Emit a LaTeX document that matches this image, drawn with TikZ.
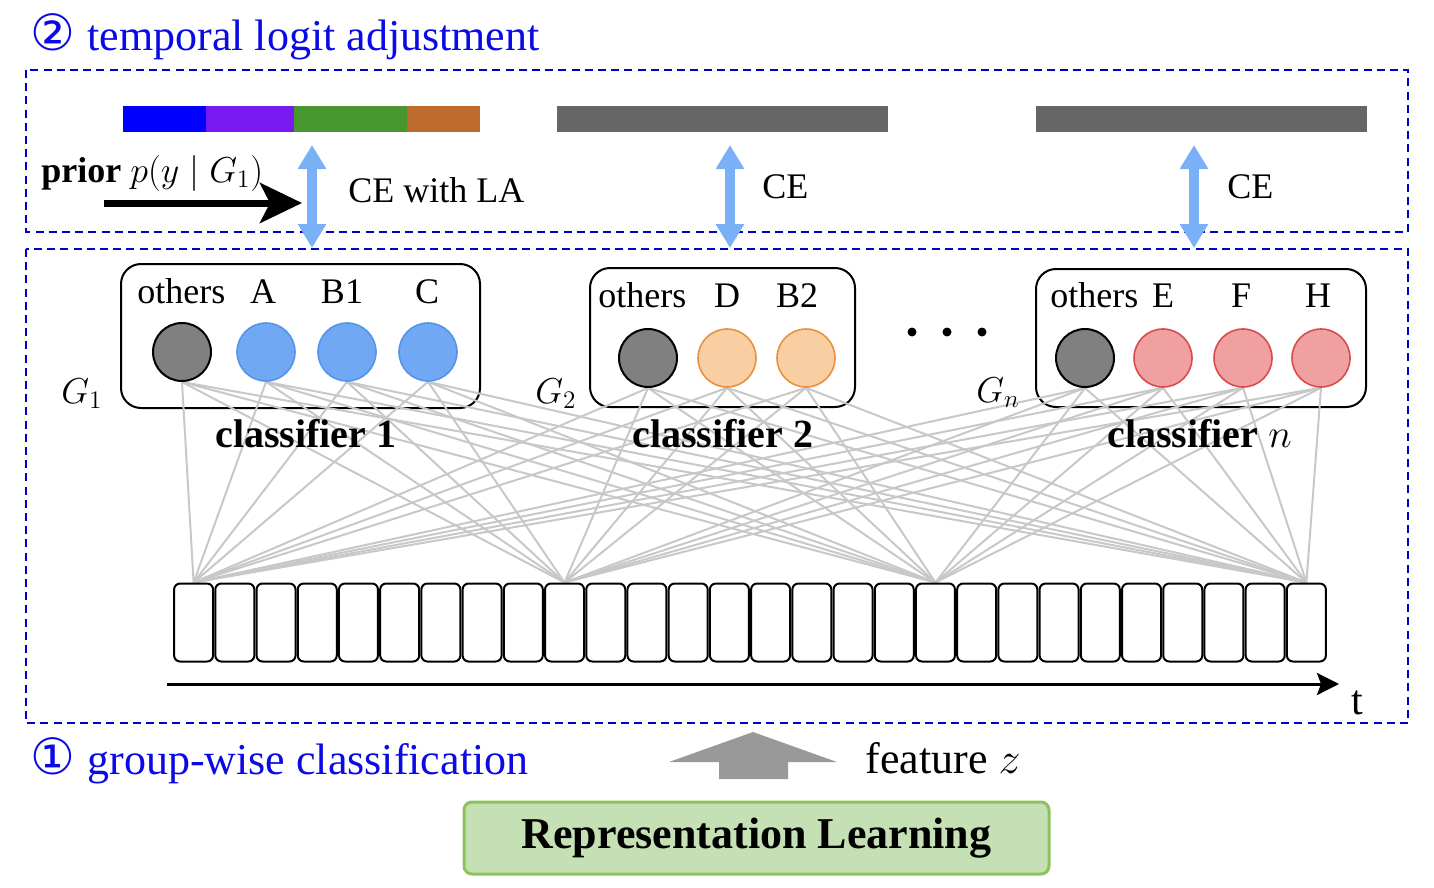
\RequirePackage{fix-cm}
\documentclass[tikz,border=0pt]{standalone}
\usepackage{fontspec}
\setmainfont{Liberation Serif}
\newfontfamily\dejavu{DejaVu Sans}
\usetikzlibrary{arrows.meta}
\pgfdeclarelayer{bg}
\pgfdeclarelayer{mid}
\pgfsetlayers{bg,mid,main}
\definecolor{dashblue}{RGB}{0,0,200}
\definecolor{titleblue}{RGB}{10,10,230}
\definecolor{cblue}{RGB}{0,0,255}
\definecolor{cpurple}{RGB}{122,26,242}
\definecolor{cgreen}{RGB}{71,150,46}
\definecolor{corange}{RGB}{190,108,45}
\definecolor{bargray}{RGB}{102,102,102}
\definecolor{arrowblue}{RGB}{122,176,245}
\definecolor{nodegray}{RGB}{128,128,128}
\definecolor{bfill}{RGB}{112,168,244}
\definecolor{bdraw}{RGB}{86,146,234}
\definecolor{ofill}{RGB}{248,206,162}
\definecolor{odraw}{RGB}{232,145,65}
\definecolor{rfill}{RGB}{240,160,160}
\definecolor{rdraw}{RGB}{218,75,75}
\definecolor{linegray}{RGB}{200,200,200}
\definecolor{featgray}{RGB}{153,153,153}
\definecolor{rlfill}{RGB}{197,224,180}
\definecolor{rldraw}{RGB}{140,195,90}
\newcommand{\circdig}[1]{\makebox[28.5pt][l]{\dejavu\fontsize{25}{26}\selectfont #1}}
\tikzset{
  dashbox/.style={draw=dashblue, line width=1.25pt, dash pattern=on 4pt off 2.6pt},
  cearrow/.style={draw=arrowblue, line width=5pt,
    {Triangle[width=13.5pt,length=12pt]}-{Triangle[width=13.5pt,length=12pt]}},
  clsbox/.style={draw, line width=1pt, rounded corners=10pt, inner sep=0pt},
  circbase/.style={circle, minimum size=29pt, inner sep=0pt, line width=0.8pt},
  othc/.style={circbase, fill=nodegray, draw=black, line width=1pt},
  bluec/.style={circbase, fill=bfill, draw=bdraw},
  orangec/.style={circbase, fill=ofill, draw=odraw},
  redc/.style={circbase, fill=rfill, draw=rdraw},
  lbl/.style={inner sep=0pt, anchor=base, font=\fontsize{18}{20}\selectfont},
  lblw/.style={lbl, anchor=base west},
  clslbl/.style={inner sep=0pt, anchor=base west, font=\fontsize{20}{24}\selectfont\bfseries},
  cell/.style={draw, line width=1pt, rounded corners=3pt, minimum width=19.5pt, minimum height=39pt, inner sep=0pt},
  link/.style={draw=linegray, line width=1pt},
  dotn/.style={circle, fill=black, inner sep=0pt, minimum size=4.5pt},
  bigtxt/.style={inner sep=0pt, anchor=base west, font=\fontsize{22}{26}\selectfont},
}
\begin{document}
\begin{tikzpicture}[x=0.5pt,y=-0.5pt]
\useasboundingbox (0,0) rectangle (1434,888);
% dashed frames
\draw[dashbox] (26,70) rectangle (1408,232);
\draw[dashbox] (26,249) rectangle (1408,723);
% title texts
\node[bigtxt, text=titleblue] (title) at (30,51) {\circdig{②}temporal logit adjustment};
\node[bigtxt, text=titleblue] (sub) at (30,774) {\circdig{①}group-wise classification};
% bars
\fill[cblue] (123,106) rectangle (206,132);
\fill[cpurple] (206,106) rectangle (294,132);
\fill[cgreen] (294,106) rectangle (407,132);
\fill[corange] (407,106) rectangle (480,132);
\fill[bargray] (557,106) rectangle (888,132);
\fill[bargray] (1036,106) rectangle (1367,132);
% prior arrow
\node[lblw] (prior) at (41,182) {\textbf{prior} $p(y\mid G_1)$};
\coordinate (pa0) at (104,203);
\coordinate (pa1) at (302,203);
\draw[line width=3.5pt, -{Stealth[length=21pt,width=20pt,inset=5pt]}] (pa0) -- (pa1);
% CE arrows
\coordinate (u1) at (312,145); \coordinate (v1) at (312,248);
\coordinate (u2) at (730,145); \coordinate (v2) at (730,248);
\coordinate (u3) at (1194,145); \coordinate (v3) at (1194,248);
\draw[cearrow] (u1) -- (v1);
\draw[cearrow] (u2) -- (v2);
\draw[cearrow] (u3) -- (v3);
\node[lblw] (ce1) at (348,202) {CE with LA};
\node[lblw] (ce2) at (762,198) {CE};
\node[lblw] (ce3) at (1227,198) {CE};
% classifier boxes
\begin{pgfonlayer}{bg}
\node[clsbox, minimum width=179.5pt, minimum height=72pt] (box1) at (300.5,336) {};
\node[clsbox, minimum width=132.5pt, minimum height=69.5pt] (box2) at (722.5,337.5) {};
\node[clsbox, minimum width=165pt, minimum height=69pt] (box3) at (1201,338) {};
\end{pgfonlayer}
% circles
\node[othc] (k1) at (182,352) {};
\node[bluec] (k2) at (266,352) {};
\node[bluec] (k3) at (347,352) {};
\node[bluec] (k4) at (428,352) {};
\node[othc] (k5) at (648,358) {};
\node[orangec] (k6) at (727,358) {};
\node[orangec] (k7) at (806,358) {};
\node[othc] (k8) at (1085,358) {};
\node[redc] (k9) at (1163,358) {};
\node[redc] (k10) at (1243,358) {};
\node[redc] (k11) at (1321,358) {};
% circle labels
\node[lblw] (l1) at (137,303) {others};
\node[lbl] (l2) at (263,303) {A};
\node[lbl] (l3) at (342,303) {B1};
\node[lbl] (l4) at (427,303) {C};
\node[lblw] (l5) at (598,307) {others};
\node[lbl] (l6) at (727,307) {D};
\node[lbl] (l7) at (797,307) {B2};
\node[lblw] (l8) at (1050,307) {others};
\node[lbl] (l9) at (1163,307) {E};
\node[lbl] (l10) at (1241,307) {F};
\node[lbl] (l11) at (1318,307) {H};
% group labels
\node[lblw] (g1) at (61,403) {$G_1$};
\node[lblw] (g2) at (535,403) {$G_2$};
\node[lblw] (gn) at (976,402) {$G_n$};
% dots
\node[dotn] (d1) at (912,332) {};
\node[dotn] (d2) at (947,332) {};
\node[dotn] (d3) at (982,332) {};
% classifier labels
\node[clslbl] (cl1) at (215,447) {classifier 1};
\node[clslbl] (cl2) at (632,447) {classifier 2};
\node[clslbl] (cl3) at (1107,447) {classifier \mdseries$n$};
% cells
\foreach \i in {1,...,28} {
  \node[cell] (c\i) at ({173+(\i-0.5)*41.214},622.5) {};
}
% links
\begin{pgfonlayer}{mid}
\foreach \h in {1,10,19,28} {
  \foreach \k in {1,...,11} {
    \draw[link] (c\h.north) -- (k\k.south);
  }
}
\end{pgfonlayer}
% time axis
\coordinate (ax0) at (167,684);
\coordinate (ax1) at (1339,684);
\draw[line width=1.5pt, -{Stealth[length=11pt,width=11pt,inset=2pt]}] (ax0) -- (ax1);
\node[inner sep=0pt, anchor=base west, font=\fontsize{21}{24}\selectfont] (tl) at (1351,714) {t};
% feature arrow
\fill[featgray] (753,732) -- (837,762) -- (788,762) -- (788,779) -- (719,779) -- (719,762) -- (669,762) -- cycle;
\node[bigtxt] (feat) at (865,773) {feature $z$};
% representation learning
\node[draw=rldraw, fill=rlfill, line width=1.5pt, rounded corners=4pt, minimum width=292.5pt, minimum height=36pt, inner sep=0pt, font=\fontsize{22}{26}\selectfont\bfseries] (rl) at (756.5,838) {Representation Learning};
\end{tikzpicture}
\end{document}
